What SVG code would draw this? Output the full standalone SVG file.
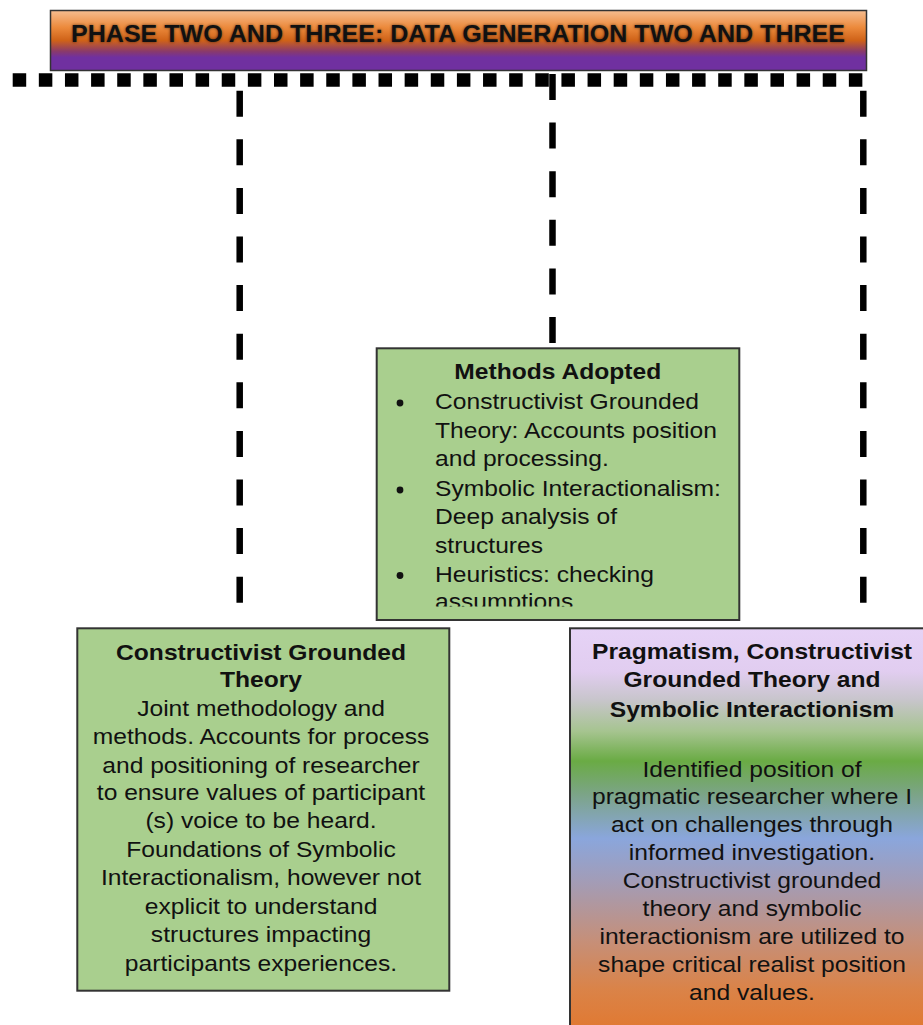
<svg xmlns="http://www.w3.org/2000/svg" width="923" height="1025" viewBox="0 0 923 1025">
  <defs>
    <linearGradient id="titleFill" x1="0" y1="0" x2="0" y2="1">
      <stop offset="0" stop-color="#f6bd90"/>
      <stop offset="0.28" stop-color="#ec8a3c"/>
      <stop offset="0.5" stop-color="#cf6218"/>
      <stop offset="0.68" stop-color="#8a3a6a"/>
      <stop offset="0.78" stop-color="#7030a0"/>
      <stop offset="1" stop-color="#7030a0"/>
    </linearGradient>
    <linearGradient id="spectrumFill" gradientUnits="userSpaceOnUse" x1="0" y1="628" x2="0" y2="1025">
      <stop offset="0" stop-color="#e6d3f6"/>
      <stop offset="0.11" stop-color="#e1cdf0"/>
      <stop offset="0.18" stop-color="#c8c5cc"/>
      <stop offset="0.26" stop-color="#a6c490"/>
      <stop offset="0.335" stop-color="#6aab44"/>
      <stop offset="0.42" stop-color="#7ca488"/>
      <stop offset="0.53" stop-color="#8aa6dc"/>
      <stop offset="0.64" stop-color="#a39cb6"/>
      <stop offset="0.79" stop-color="#c68f78"/>
      <stop offset="0.91" stop-color="#da8348"/>
      <stop offset="1" stop-color="#e07a34"/>
    </linearGradient>
    <filter id="halo" x="-5%" y="-40%" width="110%" height="180%">
      <feGaussianBlur stdDeviation="1.4"/>
    </filter>
    <clipPath id="methodsClip">
      <rect x="376" y="348" width="364" height="258.5"/>
    </clipPath>
    <style>
      .box { stroke: #333; stroke-width: 2; }
      .green { fill: #a9cf8e; }
      .txt { font-family: "Liberation Sans", Arial, sans-serif; font-size: 21.5px; fill: #111; }
      .bold { font-weight: bold; }
      .mid { text-anchor: middle; }
      .dash-v { stroke: #000; stroke-width: 6.5; stroke-dasharray: 26 22.6; fill: none; }
      .dash-h { stroke: #000; stroke-width: 13.5; stroke-dasharray: 13.5 12.63; fill: none; }
    </style>
  </defs>

  <rect width="923" height="1025" fill="#fff"/>

  <!-- dotted bus and dashed drops -->
  <g id="connectors">
    <line class="dash-h" x1="12.7" y1="80" x2="863" y2="80"/>
    <line class="dash-v" x1="239.7" y1="90.7" x2="239.7" y2="603"/>
    <line class="dash-v" x1="552.5" y1="74" x2="552.5" y2="343"/>
    <line class="dash-v" x1="863.3" y1="90.7" x2="863.3" y2="603"/>
  </g>

  <!-- heading bar -->
  <g id="title">
    <rect x="50.5" y="10.5" width="816" height="60" fill="url(#titleFill)" stroke="#333" stroke-width="1.5"/>
    <g transform="translate(458 0) scale(1.09 1)">
      <text class="txt bold mid" x="0" y="42" style="font-size:23px" fill="#000" opacity="0.55" filter="url(#halo)">PHASE TWO AND THREE: DATA GENERATION TWO AND THREE</text>
      <text class="txt bold mid" x="0" y="42" style="font-size:23px">PHASE TWO AND THREE: DATA GENERATION TWO AND THREE</text>
    </g>
  </g>

  <!-- methods adopted -->
  <g id="methods">
    <rect class="box green" x="376.7" y="348.3" width="362.6" height="271.7"/>
    <g fill="#111">
      <circle cx="400" cy="403" r="3.4"/>
      <circle cx="400" cy="490" r="3.4"/>
      <circle cx="400" cy="575.5" r="3.4"/>
    </g>
    <g clip-path="url(#methodsClip)">
      <g transform="translate(435 0) scale(1.145 1)">
        <text class="txt bold mid" x="107.2" y="379.3">Methods Adopted</text>
        <text class="txt" x="0" y="409.3">Constructivist Grounded</text>
        <text class="txt" x="0" y="438.5">Theory: Accounts position</text>
        <text class="txt" x="0" y="466.5">and processing.</text>
        <text class="txt" x="0" y="496">Symbolic Interactionalism:</text>
        <text class="txt" x="0" y="524">Deep analysis of</text>
        <text class="txt" x="0" y="552.7">structures</text>
        <text class="txt" x="0" y="581.7">Heuristics: checking</text>
        <text class="txt" x="0" y="609.5">assumptions</text>
      </g>
    </g>
  </g>

  <!-- constructivist grounded theory -->
  <g id="cgt">
    <rect class="box green" x="77.3" y="628.3" width="372" height="362.4"/>
    <g transform="translate(261 0) scale(1.145 1)">
      <text class="txt bold mid" x="0" y="660.5">Constructivist Grounded</text>
      <text class="txt bold mid" x="0" y="687">Theory</text>
      <text class="txt mid" x="0" y="716.5">Joint methodology and</text>
      <text class="txt mid" x="0" y="744.5">methods. Accounts for process</text>
      <text class="txt mid" x="0" y="773">and positioning of researcher</text>
      <text class="txt mid" x="0" y="800.5">to ensure values of participant</text>
      <text class="txt mid" x="0" y="828.5">(s) voice to be heard.</text>
      <text class="txt mid" x="0" y="857">Foundations of Symbolic</text>
      <text class="txt mid" x="0" y="885.5">Interactionalism, however not</text>
      <text class="txt mid" x="0" y="914">explicit to understand</text>
      <text class="txt mid" x="0" y="942.5">structures impacting</text>
      <text class="txt mid" x="0" y="971">participants experiences.</text>
    </g>
  </g>

  <!-- pragmatism / critical realist position -->
  <g id="pragmatism">
    <rect class="box" x="570" y="628.3" width="372" height="410" fill="url(#spectrumFill)"/>
    <g transform="translate(752 0) scale(1.145 1)">
      <text class="txt bold mid" x="0" y="659">Pragmatism, Constructivist</text>
      <text class="txt bold mid" x="0" y="687">Grounded Theory and</text>
      <text class="txt bold mid" x="0" y="716.7">Symbolic Interactionism</text>
      <text class="txt mid" x="0" y="776.7">Identified position of</text>
      <text class="txt mid" x="0" y="804.5">pragmatic researcher where I</text>
      <text class="txt mid" x="0" y="832">act on challenges through</text>
      <text class="txt mid" x="0" y="860">informed investigation.</text>
      <text class="txt mid" x="0" y="888.3">Constructivist grounded</text>
      <text class="txt mid" x="0" y="916">theory and symbolic</text>
      <text class="txt mid" x="0" y="944">interactionism are utilized to</text>
      <text class="txt mid" x="0" y="972">shape critical realist position</text>
      <text class="txt mid" x="0" y="1000">and values.</text>
    </g>
  </g>
</svg>
